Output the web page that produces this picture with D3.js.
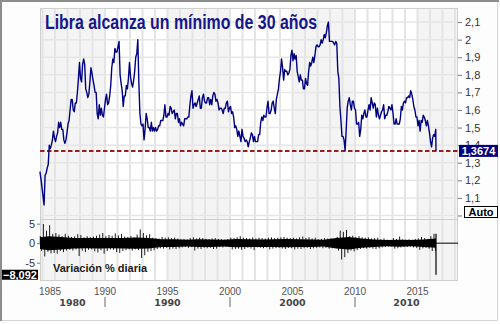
<!DOCTYPE html>
<html>
<head>
<meta charset="utf-8">
<script src="https://cdn.jsdelivr.net/npm/d3@7"></script>
<style>
  body { margin: 0; background: #fff; }
  svg { display: block; }
</style>
</head>
<body>
<svg id="chart" width="500" height="324"></svg>
<script>
// GBP/USD, monthly readings, Oct 1984 .. Jun 2016
const priceStart = 1984.75
const gbp80s = [1.25, 1.21, 1.16,
  1.11, 1.06, 1.23, 1.24, 1.27, 1.29, 1.40, 1.38, 1.40, 1.43, 1.48, 1.44,
  1.42, 1.45, 1.47, 1.53, 1.50, 1.53, 1.49, 1.49, 1.43, 1.41, 1.43, 1.47,
  1.52, 1.54, 1.60, 1.66, 1.66, 1.60, 1.59, 1.64, 1.64, 1.70, 1.78, 1.87,
  1.78, 1.76, 1.86, 1.89, 1.86, 1.72, 1.70, 1.67, 1.69, 1.76, 1.84, 1.81,
  1.77, 1.74, 1.70, 1.70, 1.58, 1.55, 1.63, 1.57, 1.61, 1.57, 1.56, 1.61]
const gbp90s = [1.66, 1.69, 1.63, 1.64, 1.68, 1.74, 1.84, 1.89, 1.87, 1.95, 1.93, 1.93,
  1.96, 1.99, 1.80, 1.75, 1.71, 1.62, 1.68, 1.68, 1.74, 1.72, 1.78, 1.87,
  1.79, 1.75, 1.73, 1.77, 1.82, 1.90, 1.92, 2.00, 1.76, 1.58, 1.52, 1.51,
  1.52, 1.43, 1.49, 1.58, 1.55, 1.50, 1.50, 1.48, 1.53, 1.48, 1.50, 1.48,
  1.50, 1.48, 1.49, 1.51, 1.51, 1.54, 1.54, 1.54, 1.57, 1.63, 1.56, 1.56,
  1.58, 1.57, 1.62, 1.61, 1.58, 1.59, 1.60, 1.55, 1.58, 1.58, 1.53, 1.55,
  1.51, 1.53, 1.52, 1.51, 1.55, 1.55, 1.55, 1.56, 1.56, 1.63, 1.68, 1.71,
  1.61, 1.63, 1.64, 1.62, 1.64, 1.66, 1.68, 1.61, 1.61, 1.67, 1.69, 1.65,
  1.64, 1.64, 1.67, 1.67, 1.63, 1.66, 1.63, 1.68, 1.70, 1.69, 1.65, 1.66,
  1.64, 1.60, 1.61, 1.61, 1.60, 1.58, 1.61, 1.61, 1.64, 1.65, 1.59, 1.61]
const gbp00s = [1.62, 1.58, 1.59, 1.56, 1.50, 1.51, 1.49, 1.45, 1.48, 1.45, 1.42, 1.49,
  1.45, 1.44, 1.42, 1.43, 1.42, 1.39, 1.42, 1.44, 1.47, 1.46, 1.42, 1.45,
  1.42, 1.42, 1.42, 1.46, 1.46, 1.53, 1.56, 1.54, 1.57, 1.56, 1.56, 1.61,
  1.65, 1.58, 1.58, 1.60, 1.64, 1.65, 1.61, 1.58, 1.66, 1.69, 1.72, 1.78,
  1.82, 1.89, 1.84, 1.77, 1.83, 1.82, 1.82, 1.80, 1.81, 1.83, 1.91, 1.94,
  1.88, 1.92, 1.89, 1.91, 1.82, 1.79, 1.76, 1.80, 1.77, 1.77, 1.72, 1.72,
  1.78, 1.75, 1.74, 1.82, 1.87, 1.85, 1.87, 1.90, 1.87, 1.91, 1.96, 1.97,
  1.96, 1.96, 1.97, 2.00, 1.98, 2.00, 2.03, 2.01, 2.04, 2.08, 2.10, 1.99,
  1.99, 1.99, 1.99, 1.98, 1.97, 1.99, 1.98, 1.82, 1.78, 1.62, 1.54, 1.45,
  1.45, 1.43, 1.37, 1.48, 1.61, 1.65, 1.67, 1.63, 1.60, 1.65, 1.65, 1.61]
const gbp10s = [1.60, 1.52, 1.52, 1.53, 1.45, 1.49, 1.57, 1.55, 1.58, 1.60, 1.56, 1.56,
  1.60, 1.63, 1.60, 1.67, 1.64, 1.61, 1.64, 1.63, 1.56, 1.61, 1.57, 1.55,
  1.57, 1.59, 1.60, 1.63, 1.55, 1.57, 1.57, 1.59, 1.62, 1.61, 1.60, 1.63,
  1.58, 1.52, 1.52, 1.55, 1.52, 1.52, 1.52, 1.55, 1.62, 1.60, 1.64, 1.65,
  1.64, 1.67, 1.67, 1.68, 1.67, 1.71, 1.69, 1.66, 1.62, 1.60, 1.56, 1.56,
  1.51, 1.54, 1.48, 1.54, 1.53, 1.57, 1.56, 1.54, 1.51, 1.54, 1.51, 1.47,
  1.42, 1.39, 1.44, 1.46, 1.45, 1.49]
const lastDay = 2016.48
const lastClose = 1.3674
const lastChange = -8.092

// daily % change: typical band half-width per year (1984..2016)
const varCore = [1.5, 1.8, 1.6, 1.35, 1.3, 1.35, 1.3, 1.35, 1.45, 1.35,
  1.0, 1.0, 0.85, 1.0, 0.95, 0.85, 1.05, 1.0, 0.95, 1.0, 1.05, 1.0, 0.95, 0.85,
  1.35, 1.6, 1.2, 0.95, 0.8, 0.9, 0.8, 0.95, 1.2]
// largest daily gain / loss per quarter, from 1984 Q4
const varUp = [1.8,
  4.9, 3.2, 4.6, 2.4,  2.6, 2.2, 1.8, 2.4,  1.9, 1.6, 1.7, 2.3,  2.1, 1.5, 1.8, 1.6,
  1.7, 1.9, 2.2, 2.6,  1.8, 2.1, 1.9, 2.5,  2.0, 2.4, 1.7, 1.6,  1.8, 1.5, 2.2, 3.5,
  2.6, 2.0, 2.3, 1.4,  1.3, 1.2, 1.6, 1.4,  1.5, 1.3, 1.4, 1.2,  1.0, 1.1, 1.0, 1.3,
  1.5, 1.2, 1.4, 1.3,  1.1, 1.0, 1.2, 1.3,  1.1, 1.0, 0.9, 1.0,  1.4, 1.3, 1.5, 1.8,
  1.4, 1.3, 1.2, 1.5,  1.2, 1.4, 1.3, 1.2,  1.4, 1.5, 1.3, 1.4,  1.5, 1.6, 1.4, 1.3,
  1.4, 1.2, 1.5, 1.7,  1.3, 1.5, 1.2, 1.4,  1.0, 1.1, 1.3, 1.2,  1.2, 1.1, 1.6, 3.2,
  2.9, 3.4, 1.8, 1.9,  1.6, 1.8, 1.5, 1.4,  1.5, 1.2, 1.3, 1.4,  1.0, 1.2, 0.9, 0.8,
  1.3, 1.1, 1.7, 1.0,  0.9, 1.0, 0.9, 1.1,  1.2, 1.6, 1.3, 1.1,  1.8, 2.4]
const varDown = [-2.0,
  -3.4, -2.2, -2.6, -2.5,  -2.7, -2.0, -2.3, -1.9,  -1.7, -1.9, -1.6, -3.3,  -1.9, -2.3, -1.7, -1.6,
  -2.1, -2.4, -1.8, -2.7,  -2.0, -1.6, -1.7, -2.3,  -2.5, -2.0, -1.8, -1.6,  -1.9, -1.6, -1.8, -3.8,
  -3.1, -2.2, -2.0, -1.8,  -1.5, -1.3, -1.4, -1.2,  -1.6, -1.4, -1.5, -1.3,  -1.1, -1.0, -1.2, -1.0,
  -1.9, -1.4, -1.5, -1.2,  -1.3, -1.2, -1.5, -1.4,  -1.0, -1.1, -0.9, -1.0,  -1.6, -1.5, -1.4, -1.7,
  -1.5, -1.2, -1.4, -1.8,  -1.1, -1.2, -1.3, -1.1,  -1.6, -1.4, -1.3, -1.2,  -1.4, -1.5, -1.2, -1.3,
  -1.6, -1.4, -1.5, -1.3,  -1.2, -1.5, -1.3, -1.2,  -1.1, -1.3, -1.2, -1.4,  -1.3, -1.2, -1.9, -4.2,
  -3.6, -2.5, -1.9, -2.1,  -1.8, -1.5, -1.3, -1.4,  -1.2, -1.4, -1.5, -1.3,  -1.1, -1.0, -0.9, -0.9,
  -1.4, -1.3, -1.1, -0.9,  -1.0, -0.9, -1.1, -1.2,  -1.7, -1.3, -1.2, -1.4,  -2.0, -2.0]

// the "1" label is hidden behind the Auto button in the picture
const mainTicks = [1.0, 1.1, 1.2, 1.3, 1.4, 1.5, 1.6, 1.7, 1.8, 1.9, 2.0, 2.1]
const mainTickLabels = ['', '1,1', '1,2', '1,3', '1,4', '1,5', '1,6', '1,7', '1,8', '1,9', '2', '2,1']
const varTicks = [5, 0, -5]
const varTickLabels = ['5', '0', '-5']
const yearTicks = [1985, 1990, 1995, 2000, 2005, 2010, 2015]
const decades = [1980, 1990, 2000, 2010]
const title = 'Libra alcanza un mínimo de 30 años'
const varTitle = 'Variación % diaria'

const W = 500, H = 324
const L = 40, R = 458, T = 8, MID = 219, B = 281
const navy = '#000080'

const prices = [...gbp80s, ...gbp90s, ...gbp00s, ...gbp10s]
  .map((v, i) => ({t: priceStart + (i + 0.5) / 12, v}))
prices.push({t: lastDay, v: lastClose})

const x = d3.scaleLinear().domain([1984.8, 2018.24]).range([L, R])
const y = d3.scaleLinear().domain([0.98, 2.18]).range([MID, T])
const yv = d3.scaleLinear().domain([-9.7, 6.2]).range([B, MID])

const svg = d3.select('#chart')

// frame
svg.append('rect').attr('width', W).attr('height', H).attr('fill', '#fdfdfd')
svg.append('path').attr('d', `M1,${H - 3}V1H${W - 1}`).attr('fill', 'none').attr('stroke', '#8c8c8c').attr('stroke-width', 2)
svg.append('path').attr('d', `M${W - 2.5},2V${H - 3.5}H2`).attr('fill', 'none').attr('stroke', '#d6d6d6').attr('stroke-width', 1)

// plot background + alternate bands
svg.append('rect').attr('x', L).attr('y', T).attr('width', R - L).attr('height', B - T).attr('fill', '#fff')
const bands = [[1984.8, 1990], [1995, 2000], [2005, 2010], [2015, 2018.24]]
svg.append('g').selectAll('rect').data(bands).join('rect')
  .attr('x', d => x(d[0])).attr('width', d => x(d[1]) - x(d[0]))
  .attr('y', T).attr('height', B - T).attr('fill', '#f4f4f4')

// grid
const years = d3.range(1985, 2019)
svg.append('g').selectAll('line').data(years).join('line')
  .attr('x1', d => x(d)).attr('x2', d => x(d)).attr('y1', T).attr('y2', B)
  .attr('stroke', '#e4e4e4').attr('stroke-width', 2)
svg.append('g').selectAll('line').data(mainTicks).join('line')
  .attr('x1', L).attr('x2', R).attr('y1', d => y(d)).attr('y2', d => y(d))
  .attr('stroke', '#e6e6e6').attr('stroke-width', 1.5)

// panel borders
svg.append('rect').attr('x', L + 0.5).attr('y', T + 0.5).attr('width', R - L - 1).attr('height', B - T - 1)
  .attr('fill', 'none').attr('stroke', '#cfcfcf')
svg.append('line').attr('x1', L).attr('x2', R).attr('y1', MID + 0.5).attr('y2', MID + 0.5).attr('stroke', '#cfcfcf')

// last close reference
svg.append('line').attr('x1', L).attr('x2', R).attr('y1', y(lastClose)).attr('y2', y(lastClose))
  .attr('stroke', '#9a1f1f').attr('stroke-width', 2).attr('stroke-dasharray', '4.5,2.5')

// price line
svg.append('path').datum(prices)
  .attr('d', d3.line().x(d => x(d.t)).y(d => y(d.v)))
  .attr('fill', 'none').attr('stroke', navy).attr('stroke-width', 1.4).attr('stroke-linejoin', 'round')

// daily variation panel
const core = varCore.map((v, i) => ({t: Math.min(Math.max(1984 + i + 0.5, 1984.8), lastDay), v}))
svg.append('path').datum(core)
  .attr('d', d3.area().x(d => x(d.t)).y0(d => yv(-d.v)).y1(d => yv(d.v)))
  .attr('fill', '#000')
const q0 = 1984.75
svg.append('g').selectAll('line').data(varUp).join('line')
  .attr('x1', (d, i) => x(q0 + i * 0.25 + 0.07)).attr('x2', (d, i) => x(q0 + i * 0.25 + 0.07))
  .attr('y1', yv(0)).attr('y2', d => yv(d)).attr('stroke', '#000').attr('stroke-width', 0.9)
svg.append('g').selectAll('line').data(varDown).join('line')
  .attr('x1', (d, i) => x(q0 + i * 0.25 + 0.18)).attr('x2', (d, i) => x(q0 + i * 0.25 + 0.18))
  .attr('y1', yv(0)).attr('y2', d => yv(d)).attr('stroke', '#000').attr('stroke-width', 0.9)
svg.append('line').attr('x1', x(lastDay)).attr('x2', x(lastDay))
  .attr('y1', yv(varUp[varUp.length - 1])).attr('y2', yv(lastChange)).attr('stroke', '#000').attr('stroke-width', 1.2)
svg.append('line').attr('x1', x(lastDay)).attr('x2', R).attr('y1', yv(0)).attr('y2', yv(0))
  .attr('stroke', '#000').attr('stroke-width', 1)

// axes
const axisFont = 'Liberation Sans, Arial, sans-serif'
const ra = svg.append('g').attr('transform', `translate(${R},0)`)
  .call(d3.axisRight(y).tickValues(mainTicks).tickSize(4).tickPadding(3)
    .tickFormat((d, i) => mainTickLabels[i]))
ra.select('.domain').remove()
ra.selectAll('line').attr('stroke', '#777')
ra.selectAll('text').attr('fill', '#333').style('font', `11px ${axisFont}`)
  .attr('font-weight', (d, i) => mainTickLabels[i] === '2' ? 'bold' : 'normal')

const la = svg.append('g').attr('transform', `translate(${L},0)`)
  .call(d3.axisLeft(yv).tickValues(varTicks).tickSize(3).tickPadding(2)
    .tickFormat((d, i) => varTickLabels[i]))
la.select('.domain').remove()
la.selectAll('line').attr('stroke', '#777')
la.selectAll('text').attr('fill', '#333').style('font', `11px ${axisFont}`)

// year labels
svg.append('g').selectAll('text').data(yearTicks).join('text')
  .attr('x', d => Math.max(x(d), L + 10)).attr('y', 295).attr('text-anchor', 'middle')
  .attr('fill', '#555').style('font', '10px Liberation Sans Narrow, Arial Narrow, sans-serif')
  .text(d => d)
svg.append('g').selectAll('text').data(decades).join('text')
  .attr('x', d => (Math.max(x(d), L) + Math.min(x(d + 10), R)) / 2).attr('y', 306).attr('text-anchor', 'middle')
  .attr('fill', '#444').attr('font-weight', 'bold').style('font-family', 'DejaVu Sans, sans-serif').style('font-size', '9.5px')
  .text(d => d)
svg.append('g').selectAll('line').data(decades.filter(d => x(d) > L)).join('line')
  .attr('x1', d => x(d)).attr('x2', d => x(d)).attr('y1', 297).attr('y2', 307)
  .attr('stroke', '#999').attr('stroke-width', 1.5)

// value boxes
function box(cx, cy, w, h, fill, stroke, color, label) {
  svg.append('rect').attr('x', cx).attr('y', cy).attr('width', w).attr('height', h)
    .attr('fill', fill).attr('stroke', stroke)
  svg.append('text').attr('x', cx + w / 2).attr('y', cy + h / 2 + 4).attr('text-anchor', 'middle')
    .attr('fill', color).style('font', `bold 11px ${axisFont}`)
    .text(label)
}
box(459, y(lastClose) - 6, 39, 12, navy, 'none', '#fff', d3.format('.4f')(lastClose).replace('.', ','))
box(2, yv(lastChange) - 5, 36, 10, '#000', 'none', '#fff', d3.format('.3f')(lastChange).replace('.', ','))
box(464.5, 206.5, 33, 11, '#fff', '#000', '#000', 'Auto')

// titles
svg.append('text').attr('x', 45).attr('y', 29).attr('fill', '#16168a')
  .style('font', 'bold 20px Liberation Sans Narrow, Arial Narrow, sans-serif')
  .attr('textLength', 272).attr('lengthAdjust', 'spacingAndGlyphs')
  .text(title)
svg.append('text').attr('x', 53).attr('y', 272).attr('fill', '#1a1a1a')
  .style('font', `bold 11px ${axisFont}`)
  .text(varTitle)
</script>
</body>
</html>
